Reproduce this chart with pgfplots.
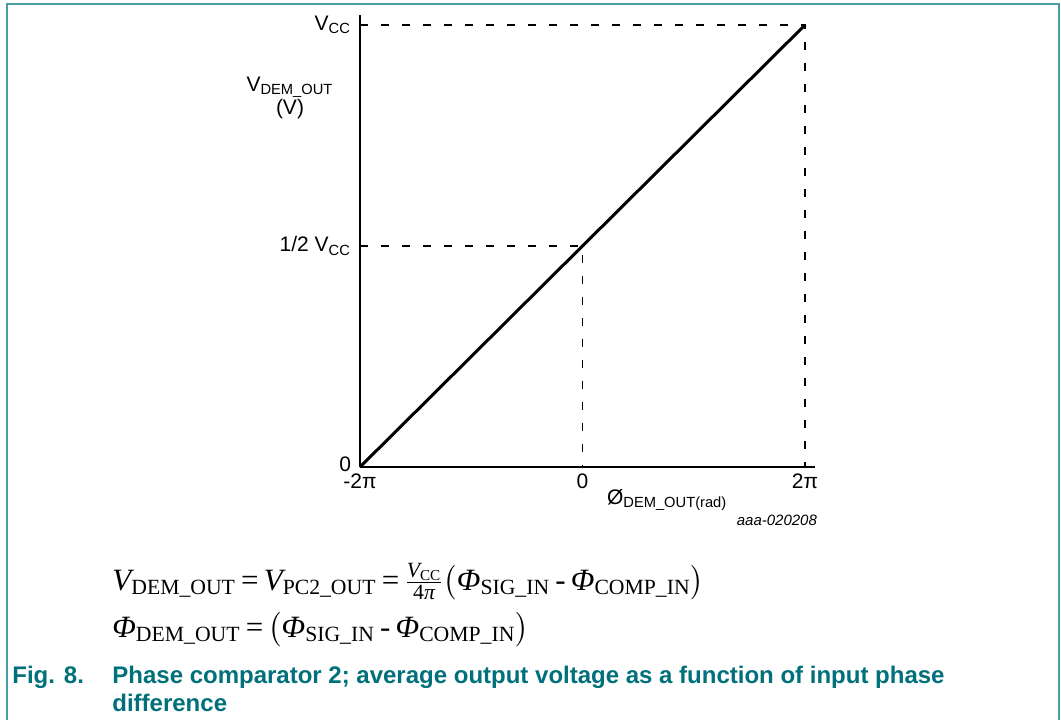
\documentclass[border=0pt]{standalone}
\usepackage{fontspec}
\setmainfont{Liberation Sans}
\newfontfamily\eqserif{Liberation Serif}
\usepackage{amsmath}
\usepackage{pgfplots}
\pgfplotsset{compat=1.18}
\definecolor{frameteal}{RGB}{72,158,166}
\definecolor{capteal}{RGB}{0,112,122}
\newcommand{\sub}[1]{\textsubscript{#1}}
\newcommand{\iv}{{\itshape V}}
\newcommand{\iphi}{{\itshape Φ}}
\begin{document}
\begin{tikzpicture}
\begin{axis}[
  at={(180pt,126.5pt)}, anchor=south west,
  scale only axis, width=227.5pt, height=226pt,
  xmin=-2, xmax=2.0899, ymin=0, ymax=1.0226,
  axis x line=bottom, axis y line=left,
  axis line style={-, line width=1.3pt},
  xtick={-2,0,2}, xticklabels={-2π,0,2π},
  ytick={0,0.5,1}, yticklabels={\raisebox{2.5pt}{0},1/2 V\sub{CC},V\sub{CC}},
  major tick length=0pt, tick style={draw=none},
  tick label style={font=\fontsize{10.5}{12}\selectfont},
  yticklabel style={xshift=-1pt},
  clip=false]
  \addplot[black, line width=0.6pt, dash pattern=on 4pt off 6.5pt] coordinates {(-2,1) (2,1) (2,0)};
  \addplot[black, line width=0.6pt, dash pattern=on 4pt off 6.5pt] coordinates {(-2,0.5) (0,0.5) (0,0)};
  \addplot[black, line width=1.5pt] coordinates {(-2,0) (2,1)};
\end{axis}
\begin{scope}[x=0.5pt,y=0.5pt]
\useasboundingbox (0,0) rectangle (1061,720);
% frame round the figure
\draw[frameteal,line width=1.2pt] (7,0) -- (7,716) -- (1059,716) -- (1059,0);
\node[align=center, font=\fontsize{10.5}{10}\selectfont] at (290,622) {V\sub{DEM\_OUT}\\(V)};
\node[anchor=west, font=\fontsize{10.5}{11}\selectfont] at (600,220) {Ø\sub{DEM\_OUT(rad)}};
\node[anchor=east, font=\fontsize{7.5}{8}\selectfont\itshape] at (824,200) {aaa-020208};
% equations
\node[anchor=base west, inner sep=0, font=\eqserif\fontsize{15.5}{18}\selectfont] at (112,130)
  {\iv\sub{DEM\_OUT}\,=\,\iv\sub{PC2\_OUT}\,=\,$\frac{\text{\eqserif\iv\sub{CC}}}{\text{\eqserif 4\itshape π}}\bigl($\iphi\sub{SIG\_IN}\,-\,\iphi\sub{COMP\_IN}$\bigr)$};
\node[anchor=base west, inner sep=0, font=\eqserif\fontsize{15.5}{18}\selectfont] at (112,83)
  {\iphi\sub{DEM\_OUT}\,=\,$\bigl($\iphi\sub{SIG\_IN}\,-\,\iphi\sub{COMP\_IN}$\bigr)$};
% caption
\begin{scope}[every node/.style={anchor=base west, inner sep=0, text=capteal, font=\bfseries\fontsize{12}{14}\selectfont}]
\node at (12,37) {Fig. 8.};
\node at (112,37) {Phase comparator 2; average output voltage as a function of input phase};
\node at (112,9) {difference};
\end{scope}
\end{scope}
\end{tikzpicture}
\end{document}
